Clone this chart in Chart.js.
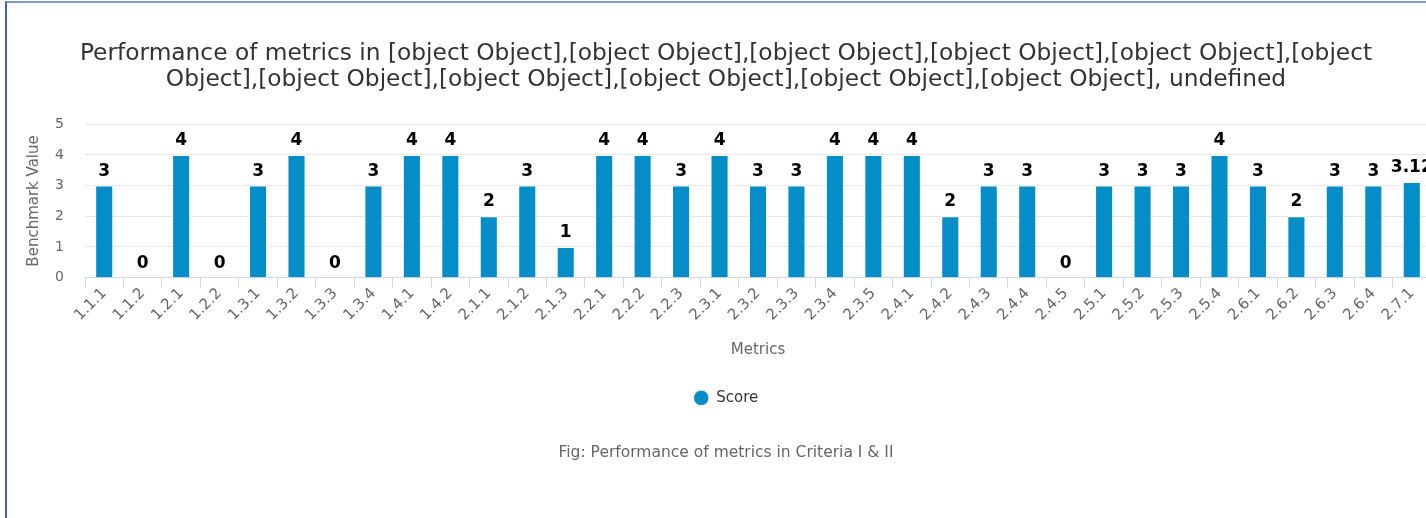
<!DOCTYPE html>
<html>
<head>
<meta charset="utf-8">
<script src="https://cdn.jsdelivr.net/npm/chart.js@4/dist/chart.umd.min.js"></script>
<style>
  html, body { margin: 0; padding: 0; background: #fff; overflow: hidden; }
  .card {
    position: absolute; left: 5px; top: 1px;
    width: 1440px; height: 530px;
    border-top: 2px solid #7f98cf;
    border-left: 2px solid #3d63d0;
  }
  canvas { display: block; }
</style>
</head>
<body>
<div class="card"><canvas id="metricsChart" width="1438" height="515"></canvas></div>
<script>
const titleLines = [
  'Performance of metrics in [object Object],[object Object],[object Object],[object Object],[object Object],[object',
  'Object],[object Object],[object Object],[object Object],[object Object],[object Object], undefined'
];
const caption = 'Fig: Performance of metrics in Criteria I & II';

const metrics = [
  '1.1.1', '1.1.2', '1.2.1', '1.2.2', '1.3.1', '1.3.2', '1.3.3', '1.3.4', '1.4.1', '1.4.2',
  '2.1.1', '2.1.2', '2.1.3', '2.2.1', '2.2.2', '2.2.3', '2.3.1', '2.3.2', '2.3.3', '2.3.4',
  '2.3.5', '2.4.1', '2.4.2', '2.4.3', '2.4.4', '2.4.5', '2.5.1', '2.5.2', '2.5.3', '2.5.4',
  '2.6.1', '2.6.2', '2.6.3', '2.6.4', '2.7.1'
];
const scores = [
  3, 0, 4, 0, 3, 4, 0, 3, 4, 4,
  2, 3, 1, 4, 4, 3, 4, 3, 3, 4,
  4, 4, 2, 3, 3, 0, 3, 3, 3, 4,
  3, 2, 3, 3, 3.12
];
const yTicks = [0, 1, 2, 3, 4, 5];

const FONT = "'DejaVu Sans', Verdana, sans-serif";

// values printed above each bar
const barLabels = {
  id: 'barLabels',
  afterDatasetsDraw(chart) {
    const ctx = chart.ctx;
    ctx.save();
    ctx.font = 'bold 17px ' + FONT;
    ctx.fillStyle = '#000';
    ctx.textAlign = 'center';
    ctx.textBaseline = 'middle';
    chart.getDatasetMeta(0).data.forEach((bar, i) => {
      ctx.fillText(String(scores[i]), bar.x, bar.y - 14.5);
    });
    ctx.restore();
  }
};

const ctx = document.getElementById('metricsChart').getContext('2d');
new Chart(ctx, {
  type: 'bar',
  data: {
    labels: metrics,
    datasets: [{
      label: 'Score',
      data: scores,
      backgroundColor: '#058dc7',
      borderColor: '#ffffff',
      borderWidth: 1,
      categoryPercentage: 1,
      barPercentage: 0.47
    }]
  },
  options: {
    responsive: false,
    animation: false,
    layout: { padding: { top: 28, right: 14, bottom: 56, left: 14 } },
    plugins: {
      title: {
        display: true,
        text: titleLines,
        color: '#333333',
        font: { family: FONT, size: 23.3, weight: 'normal', lineHeight: 1.12 },
        padding: { top: 10, bottom: 31 }
      },
      subtitle: {
        display: true,
        text: caption,
        position: 'bottom',
        color: '#666666',
        font: { family: FONT, size: 15.5, weight: 'normal' },
        padding: { top: 28, bottom: 0 }
      },
      legend: {
        position: 'bottom',
        labels: {
          usePointStyle: true,
          pointStyle: 'circle',
          boxHeight: 11,
          color: '#333333',
          font: { family: FONT, size: 15 },
          padding: 10
        }
      },
      tooltip: { enabled: false }
    },
    scales: {
      x: {
        grid: {
          drawOnChartArea: false,
          color: '#ccd6eb',
          tickLength: 10
        },
        border: { color: '#ccd6eb' },
        ticks: {
          color: '#666666',
          font: { family: FONT, size: 15 },
          minRotation: 45,
          maxRotation: 45,
          autoSkip: false,
          padding: -3
        },
        title: {
          display: true,
          text: 'Metrics',
          color: '#666666',
          font: { family: FONT, size: 15 },
          padding: { top: 20, bottom: 21 }
        }
      },
      y: {
        min: 0,
        max: 5,
        afterFit(scale) { scale.width = 64; },
        afterBuildTicks(scale) { scale.ticks = yTicks.map(v => ({ value: v })); },
        grid: { color: '#e6e6e6', drawTicks: false },
        border: { display: false },
        ticks: {
          color: '#666666',
          font: { family: FONT, size: 14 },
          padding: 21
        },
        title: {
          display: true,
          text: 'Benchmark Value',
          color: '#666666',
          font: { family: FONT, size: 15 },
          padding: { top: 4, bottom: 0 }
        }
      }
    }
  },
  plugins: [barLabels]
});
</script>
</body>
</html>
